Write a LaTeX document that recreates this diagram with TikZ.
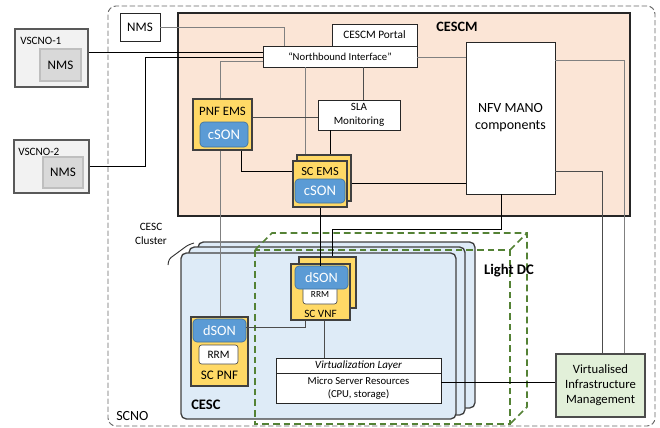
\documentclass[tikz,border=0pt]{standalone}
\usepackage{fontspec}
\setmainfont{Carlito}
\usetikzlibrary{positioning,calc}

\definecolor{cescmfill}{HTML}{FBE5D6}
\definecolor{emsyellow}{HTML}{FFD966}
\definecolor{sonblue}{HTML}{5B9BD5}
\definecolor{sonedge}{HTML}{41719C}
\definecolor{cescfill}{HTML}{DEEBF7}
\definecolor{vimfill}{HTML}{E2F0D9}
\definecolor{dcgreen}{HTML}{548235}
\definecolor{vscnofill}{HTML}{F2F2F2}
\definecolor{nmsgray}{HTML}{D9D9D9}

\tikzset{
  wh/.style 2 args={minimum width=#1*0.75pt, minimum height=#2*0.75pt},
  scnoframe/.style={draw=black!60, dash pattern=on 4pt off 2pt, line width=0.7pt, rounded corners=6pt, inner sep=0pt},
  cescmbox/.style={draw=black!85, fill=cescmfill, line width=0.8pt, inner sep=0pt},
  vscnobox/.style={draw=black!65, fill=vscnofill, line width=0.8pt, inner sep=0pt},
  nmsin/.style={draw=black!25, fill=nmsgray, line width=0.8pt, inner sep=0pt, font=\fontsize{9.8}{11}\selectfont},
  box/.style={draw=black!85, fill=white, line width=0.7pt, inner sep=0pt, align=center},
  emsbox/.style={draw=black!75, fill=emsyellow, line width=0.8pt, inner sep=0pt},
  sonbox/.style={draw=sonedge, fill=sonblue, text=white, rounded corners=3pt, line width=0.5pt, inner sep=0pt, font=\fontsize{11}{12}\selectfont},
  rrmbox/.style={draw=black!70, fill=white, rounded corners=2pt, line width=0.5pt, inner sep=0pt},
  cescbox/.style={draw=black!75, fill=cescfill, rounded corners=4pt, line width=1pt, inner sep=0pt},
  vimbox/.style={draw=black!70, fill=vimfill, line width=0.8pt, inner sep=0pt, align=center, font=\fontsize{9.5}{11.3}\selectfont},
  dcedge/.style={draw=dcgreen, line width=1.3pt, dash pattern=on 5pt off 3pt},
  txt/.style={inner sep=0pt, align=center},
  link/.style={draw=black, line width=0.6pt},
  glink/.style={draw=black!50, line width=0.6pt},
  dlink/.style={draw=black!70, line width=0.6pt},
}

\begin{document}
\begin{tikzpicture}[x=0.75pt,y=-0.75pt]
\useasboundingbox (0,0) rectangle (660,428);

% SCNO domain
\node[scnoframe, wh={547}{420}] (scno) at (381.5,216) {};
\node[txt, anchor=west, font=\fontsize{10.5}{12}\selectfont] (scnolbl) at (116,416) {SCNO};

% CESCM
\node[cescmbox, wh={452}{203}] (cescm) at (404,114.5) {};
\node[txt, font=\fontsize{10.7}{12}\selectfont\bfseries] (cescmlbl) at (457,27) {CESCM};

% VSCNOs
\node[vscnobox, wh={73}{58}] (vscno1) at (51.5,58) {};
\node[txt, anchor=west, font=\fontsize{8.4}{10}\selectfont] (vscno1lbl) at (20,41) {VSCNO-1};
\node[nmsin, wh={41}{32}] (vscno1nms) at (60.5,65) {NMS};
\node[vscnobox, wh={75}{53}] (vscno2) at (51.5,166.5) {};
\node[txt, anchor=west, font=\fontsize{8.4}{10}\selectfont] (vscno2lbl) at (18,152) {VSCNO-2};
\node[nmsin, wh={40}{31}] (vscno2nms) at (63,172.5) {NMS};

% CESC cluster
\node[cescbox, wh={277}{166}] (cesc3) at (336.5,325) {};
\node[cescbox, wh={276}{168}] (cesc2) at (327,331) {};
\node[cescbox, wh={275}{166}] (cesc1) at (318.5,336) {};
\node[txt, anchor=west, font=\fontsize{10.9}{12}\selectfont\bfseries] (cesclbl) at (191,405) {CESC};
\node[txt, font=\fontsize{8.4}{10.5}\selectfont] (clusterlbl) at (151,234) {CESC\\Cluster};
\draw[black!80, line width=0.7pt, rounded corners=2pt] (168,265) -- (169,259) -- (188,245) -- (194,243);

% Light DC
\draw[dcedge] (255,250) rectangle (510,424);
\draw[dcedge] (255,250) -- (272,233) -- (527,233) -- (527,407) -- (510,424);
\draw[dcedge] (510,250) -- (527,233);
\node[txt, font=\fontsize{11}{12}\selectfont\bfseries] (dclbl) at (509,271) {Light DC};

% management boxes
\node[box, wh={40}{28}, font=\fontsize{9.8}{11}\selectfont] (nms) at (140,27) {NMS};
\node[box, wh={85}{22}, font=\fontsize{8.5}{10}\selectfont] (portal) at (374.5,35) {CESCM Portal};
\node[box, wh={154}{21}, font=\fontsize{8}{10}\selectfont] (nbi) at (340,56.5) {``Northbound Interface''};
\node[box, wh={82}{30}, font=\fontsize{8.3}{10.5}\selectfont] (sla) at (359,115) {SLA\\Monitoring};
\node[box, wh={89}{152}, font=\fontsize{10.5}{12.8}\selectfont] (nfv) at (510.5,118) {NFV MANO\\components};

% EMSs
\node[emsbox, wh={59}{51}] (pnfems) at (222.5,124.5) {};
\node[txt, font=\fontsize{9.6}{11}\selectfont] (pnfemslbl) at (222.5,111) {PNF EMS};
\node[sonbox, wh={48}{25}] (pnfcson) at (224,134.5) {cSON};
\node[emsbox, wh={54}{46}] (scemsbk) at (324,178) {};
\node[emsbox, wh={54}{46}] (scemsfr) at (320,184) {};
\node[txt, font=\fontsize{9.3}{11}\selectfont] (scemslbl) at (320,172) {SC EMS};
\node[sonbox, wh={50}{24}] (scemscson) at (320,191) {cSON};

% small cells
\node[emsbox, wh={57}{51}] (scvnfbk) at (327.5,282.5) {};
\node[emsbox, wh={59}{56}] (scvnffr) at (320.5,292) {};
\node[rrmbox, wh={34}{18}, font=\fontsize{7}{8}\selectfont] (vnfrrm) at (320,295) {\raisebox{-1.5pt}{RRM}};
\node[sonbox, wh={53}{23}, font=\fontsize{10.7}{12}\selectfont] (vnfdson) at (321.5,277.5) {dSON};
\node[txt, font=\fontsize{8.4}{10}\selectfont] (scvnflbl) at (320.5,314) {SC VNF};
\node[emsbox, wh={57}{69}] (scpnf) at (219.5,351.5) {};
\node[sonbox, wh={53}{23}, font=\fontsize{10.7}{12}\selectfont] (pnfdson) at (219.5,330.5) {dSON};
\node[rrmbox, wh={39}{19}, font=\fontsize{8.5}{10}\selectfont] (pnfrrm) at (218.5,354.5) {RRM};
\node[txt, font=\fontsize{9.8}{11}\selectfont] (scpnflbl) at (219.5,375) {SC PNF};

% virtualization
\node[box, wh={165}{15}, font=\fontsize{8.3}{10}\selectfont\itshape] (virtlayer) at (358.5,365.5) {Virtualization Layer};
\node[box, wh={165}{30}, font=\fontsize{8}{9.8}\selectfont] (micro) at (358.5,388) {Micro Server Resources\\(CPU, storage)};
\node[vimbox, wh={89}{63}] (vim) at (600.5,385.5) {Virtualised\\Infrastructure\\Management};

% connectors
\draw[link] ($(vscno1.east)+(0,-6)$) coordinate (v1) -- (v1 -| nbi.west);
\draw[link] (vscno2.east) -- ++(56,0) |- ($(nbi.west)+(0,0.5)$);
\draw[glink] (nms.east) -| ($(nbi.north west)+(22,0)$);
\draw[glink] ($(nbi.west)+(0,4.5)$) -| ($(pnfems.north)+(-2,0)$);
\draw[glink] ($(nbi.south west)+(43,0)$) coordinate (n1) -- (n1 |- scemsbk.north);
\draw[dlink] ($(nbi.south west)+(101,0)$) coordinate (n2) -- (n2 |- sla.north);
\draw[link] ($(sla.south west)+(13,0)$) coordinate (s1) -- (s1 |- scemsbk.north);
\draw[dlink] ($(sla.west)+(0,2)$) coordinate (s2) -- (s2 -| pnfems.east);
\draw[link] ($(pnfems.south east)+(-11,0)$) |- ($(scemsfr.west)+(0,-13)$);
\draw[glink] ($(nbi.east)+(0,0.5)$) coordinate (n3) -- (n3 -| nfv.west);
\draw[link] ($(scemsbk.east)+(0,5)$) coordinate (e1) -- (e1 -| nfv.west);
\draw[glink] ($(nfv.north east)+(0,19)$) -| ($(vim.north east)+(-21,0)$);
\draw[dlink] ($(nfv.south east)+(0,-23)$) -| ($(vim.north west)+(47,0)$);
\draw[link] ($(nfv.south west)+(36,0)$) -- ++(0,35) -| ($(scvnfbk.north west)+(34,0)$);
\draw[link] (scemsfr.south) -- (scemsfr.south |- vnfdson.north);
\draw[glink] ($(pnfems.south)+(-2,0)$) coordinate (p1) -- (p1 |- scpnf.north);
\draw[dlink] ($(pnfdson.east)+(0,-3.5)$) -| ($(scvnffr.south west)+(15,0)$);
\draw[dlink] ($(scvnffr.south west)+(34,0)$) coordinate (v2) -- (v2 |- virtlayer.north);
\draw[link] ($(micro.east)+(0,-6)$) coordinate (m1) -- (m1 -| vim.west);
\end{tikzpicture}
\end{document}
